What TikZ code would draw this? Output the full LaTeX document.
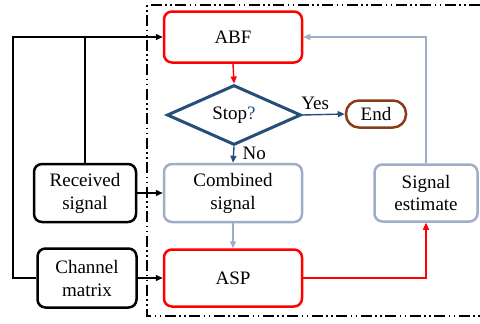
\documentclass[tikz,border=0pt]{standalone}
\usepackage{fontspec}
\setmainfont{Liberation Serif}
\usetikzlibrary{arrows.meta,shapes.geometric}
\definecolor{redline}{RGB}{255,0,0}
\definecolor{navy}{RGB}{38,78,122}
\definecolor{greyblue}{RGB}{158,174,198}
\definecolor{brownline}{RGB}{135,62,22}
\begin{document}
\begin{tikzpicture}[x=1pt,y=-1pt,
  txt/.style={font=\fontsize{19}{23}\selectfont, align=center},
  box/.style={txt, draw, rounded corners=8pt, line width=2.5pt, inner sep=0pt},
  redbox/.style={box, draw=redline, minimum width=138pt},
  greybox/.style={box, draw=greyblue},
  blackbox/.style={box, draw=black},
  decision/.style={txt, draw=navy, line width=3pt, shape=diamond, inner sep=0pt,
    minimum width=134pt, minimum height=54pt},
  endbox/.style={txt, draw=brownline, line width=2.5pt, rounded corners=13pt,
    minimum width=60pt, minimum height=27pt, inner sep=0pt},
  tip/.style={-{Triangle[length=7pt,width=6pt]}},
  link/.style={tip, line width=1.4pt},
  frame/.style={line width=1.1pt, dash pattern=on 11pt off 3.5pt on 1.5pt off 3.5pt on 1.5pt off 3.5pt}
]
\useasboundingbox (0,0) rectangle (480,324);

% dash-dot-dot frame round the detector loop
\draw[frame] (480,5) -- (147,5) -- (147,316) -- (480,316);

% blocks
\node[redbox, minimum height=51pt] (abf) at (233,37) {ABF};
\node[decision] (stop) at (234,115) {Stop\textcolor{navy}{?}};
\node[endbox] (end) at (376,114) {End};
\node[greybox, minimum width=138pt, minimum height=58pt] (comb) at (233,193) {Combined\\signal};
\node[redbox, minimum height=57pt] (asp) at (233,278) {ASP};
\node[greybox, minimum width=103pt, minimum height=57pt] (est) at (426,193) {Signal\\estimate};
\node[blackbox, minimum width=102pt, minimum height=58pt] (recv) at (85,193) {Received\\signal};
\node[blackbox, minimum width=99pt, minimum height=59pt] (chan) at (87,278) {Channel\\matrix};

\coordinate (corner) at (13,37);

% flow inside the loop
\draw[link, redline] (abf.south) -- (stop.north);
\draw[link, navy] (stop.south) -- (comb.north)
  node[txt, pos=0.4, right=5pt, text=black] {No};
\draw[link, navy] (stop.east) -- (end.west)
  node[txt, pos=0.3, above=1pt, text=black] {Yes};
\draw[link, greyblue] (comb.south) -- (asp.north);
\draw[link, redline] (asp.east) -| (est.south);
\draw[link, greyblue] (est.north) |- (abf.east);

% inputs
\draw[link, black] (chan.west) -| (corner) -- (abf.west);
\draw[line width=1.4pt] (recv.north) -- (recv.north |- corner);
\draw[link, black] (recv.east) -- (comb.west);
\draw[link, black] (chan.east) -- (asp.west);
\end{tikzpicture}
\end{document}
